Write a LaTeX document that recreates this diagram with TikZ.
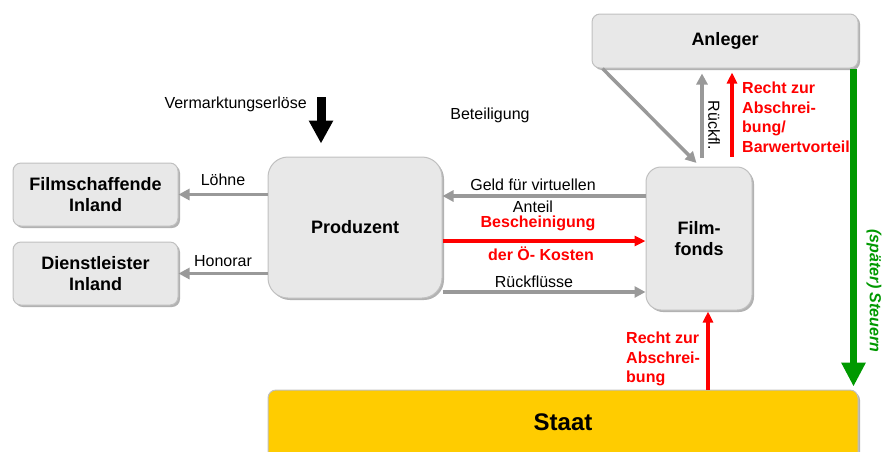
\documentclass[tikz,border=0pt]{standalone}
\usepackage{fontspec}
\setmainfont{Liberation Sans}
\usetikzlibrary{arrows.meta,shadows,positioning}
\definecolor{boxGray}{RGB}{232,232,232}
\definecolor{boxBorder}{RGB}{192,192,192}
\definecolor{arrowGray}{RGB}{153,153,153}
\definecolor{staatYellow}{RGB}{255,204,0}
\definecolor{steuerGreen}{RGB}{0,153,0}

\begin{document}
\begin{tikzpicture}[x=1pt, y=-1pt, node distance=79pt,
  box/.style={draw=boxBorder, line width=1pt, rounded corners=8pt, fill=boxGray, inner sep=0pt, align=center,
    font=\fontsize{18}{21}\selectfont\bfseries,
    drop shadow={shadow xshift=2pt, shadow yshift=-2pt, fill=black!30, opacity=1}},
  grayarrow/.style={draw=arrowGray, line width=3.5pt, -{Triangle[length=11pt,width=11pt]}},
  redarrow/.style={draw=red, line width=3.5pt, -{Triangle[length=11pt,width=10pt]}},
  lbl/.style={font=\fontsize{16}{19}\selectfont, inner sep=0pt},
  redlbl/.style={font=\fontsize{16}{19.5}\selectfont\bfseries, text=red, inner sep=0pt, align=left}]
  \useasboundingbox (0,0) rectangle (885,451);
  \clip (0,0) rectangle (885,451);

  % boxes
  \node[box, minimum width=266pt, minimum height=54pt] (anleger) at (725,41) {Anleger};
  \node[box, minimum width=165pt, minimum height=63pt] (filmsch) at (95.5,194.5) {Filmschaffende\\Inland};
  \node[box, minimum width=165pt, minimum height=63pt, below of=filmsch] (dienst) {Dienstleister\\Inland};
  \node[box, minimum width=174pt, minimum height=141pt, rounded corners=20pt] (prod) at (355,227.5) {Produzent};
  \node[box, minimum width=106pt, minimum height=143pt, rounded corners=15pt] (fonds) at (699,238.5) {Film-\\fonds};
  \node[box, fill=staatYellow, minimum width=590pt, minimum height=76pt, text depth=12pt,
    font=\fontsize{24}{28}\selectfont\bfseries] (staat) at (563,428) {Staat};

  % oben links
  \coordinate (vtop) at (321,97);
  \node[lbl, anchor=base east] (verm) at (307,108) {Vermarktungserlöse};
  \draw[line width=9pt, -{Triangle[length=23pt,width=23pt]}, shorten >=13pt] (vtop) -- (prod.north -| vtop);
  \node[lbl] (beteil) at (490,115) {Beteiligung};

  % Produzent nach links
  \draw[grayarrow] (prod.west |- filmsch.east) -- (filmsch.east) node[lbl, midway, above=7pt] (loehne) {Löhne};
  \draw[grayarrow] (prod.west |- dienst.east) -- (dienst.east) node[lbl, midway, above=5pt] (honorar) {Honorar};

  % Produzent <-> Filmfonds
  \draw[grayarrow] ([yshift=42.5pt]fonds.west) -- ([yshift=31.5pt]prod.east)
    node[lbl, midway, above=4pt, xshift=-11pt] (geld) {Geld für virtuellen}
    node[lbl, midway, below=3pt, xshift=-11pt] (anteil) {Anteil};
  \draw[redarrow] ([yshift=-13.5pt]prod.east) -- ([yshift=-2.5pt]fonds.west)
    node[redlbl, midway, above=8pt, xshift=-6pt] (besch) {Bescheinigung}
    node[redlbl, midway, below=4pt, xshift=-3pt] (kosten) {der Ö- Kosten};
  \draw[grayarrow] ([yshift=-64.5pt]prod.east) -- ([yshift=-53.5pt]fonds.west)
    node[lbl, midway, above=3pt, xshift=-10pt] (rueck) {Rückflüsse};

  % Anleger
  \draw[grayarrow, shorten >=5pt] ([xshift=11pt]anleger.south west) -- ([xshift=1pt]fonds.north);
  \draw[grayarrow, shorten >=5pt] ([xshift=3pt, yshift=9pt]fonds.north) -- ([xshift=-23pt]anleger.south);
  \node[lbl, rotate=-90] (rueckfl) at (714,125) {Rückfl.};
  \draw[redarrow, shorten >=4pt] ([xshift=33pt, yshift=10pt]fonds.north) -- ([xshift=7pt]anleger.south);
  \node[redlbl, anchor=north west] (recht1) at (742,82) {Recht zur\\Abschrei-\\bung/\\Barwertvorteil};

  % Steuern
  \draw[draw=steuerGreen, line width=7pt, -{Triangle[length=24pt,width=23pt]}, shorten >=3pt]
    ([xshift=-5pt]anleger.south east) -- ([xshift=-5pt]staat.north east);
  \node[font=\fontsize{16}{19}\selectfont\bfseries\itshape, text=steuerGreen, inner sep=0pt, rotate=-90] (steuern) at (874,291) {(später) Steuern};

  % Staat -> Filmfonds
  \draw[redarrow, shorten >=1pt] ([xshift=145pt]staat.north) -- ([xshift=9pt]fonds.south);
  \node[redlbl, anchor=north west] (recht2) at (626,332) {Recht zur\\Abschrei-\\bung};
\end{tikzpicture}
\end{document}
